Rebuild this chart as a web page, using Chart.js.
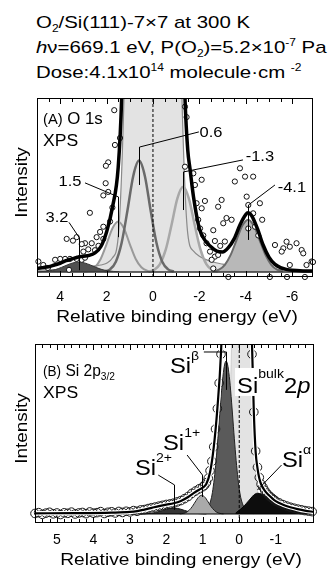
<!DOCTYPE html>
<html>
<head>
<meta charset="utf-8">
<title>O2/Si(111)-7x7 XPS</title>
<script src="https://cdn.jsdelivr.net/npm/chart.js@4.4.1/dist/chart.umd.min.js"></script>
<style>
  html, body { margin: 0; padding: 0; background: #fff; }
  body { position: relative; width: 328px; height: 570px; overflow: hidden;
         font-family: "Liberation Sans", Arial, Helvetica, sans-serif; color: #000; }
  .head { position: absolute; left: 36px; font-size: 17px; line-height: 17px; white-space: nowrap;
          transform: scaleX(1.2); transform-origin: 0 0; }
  .lo { position: relative; top: 4px; font-size: 10px; }
  .hi { position: relative; top: -7px; font-size: 10px; }
  canvas { position: absolute; left: 0; }
</style>
</head>
<body>
<div class="head" style="top:14px">O<span class="lo">2</span>/Si(111)-7×7 at 300 K</div>
<div class="head" style="top:39px"><i>h</i>ν=669.1 eV, P(O<span class="lo">2</span>)=5.2×10<span class="hi">-7</span> Pa</div>
<div class="head" style="top:64px">Dose:4.1x10<span class="hi">14</span> molecule·cm <span class="hi">-2</span></div>
<canvas id="o1s" width="328" height="240" style="top:88px"></canvas>
<canvas id="si2p" width="328" height="236" style="top:334px"></canvas>
<script>
const FONT = '"Liberation Sans", Arial, Helvetica, sans-serif';
Chart.defaults.font.family = FONT;
Chart.defaults.color = '#000';

// ---------- (A) O 1s ----------
const o1sTickLabels = [4, 2, 0, -2, -4, -6];
const o1sPeakPositions = [3.2, 1.5, 0.6, -1.3, -4.1];

// measured points
const o1sCountsX = [1.67, 1.42, 1.64, 1.93, 2.03, 2.04, 1.93, 2.14, 1.75, 2.72, 1.85, 2.14, 2.28, 2.14, 2.43, 2.64, 2.93, 3.07, 3.29, 3.72,
  3.45, 3.0, 2.79, 3.29, 3.07, 2.93, 3.58, 3.79, 4.0, 4.22, 4.94, 4.73, 4.53, 3.62, 2.5, 2.35,
  -1.38, -1.45, -1.38, -1.74, -1.81, -2.1, -1.88, -2.24, -2.1, -1.95, -2.03, -2.17, -2.31, -2.6, -2.67, -2.46, -2.67, -2.53, -2.81, -3.1,
  -3.03, -2.81, -2.96, -3.17, -3.39, -3.53, -3.75, -3.97, -4.32, -4.04, -4.11, -4.61, -4.32, -4.71, -4.4, -4.11, -4.54, -5.26, -5.62, -5.76,
  -5.9, -6.19, -6.41, -6.48, -5.55, -5.9, -6.62, -6.84, -2.6, -3.25, -5.04, -5.78, -6.55, -6.9, -2.9];
const o1sCountsY = [93, 77, 73, 63, 61, 51, 46, 44, 37, 34, 29, 26, 23, 19, 20, 16.5, 16.5, 16, 20, 19,
  18, 11.7, 13, 7.5, 7, 8.2, 7.5, 7.5, 7.5, 7, 6, 4, 2.3, 1.2, 12.5, 15,
  95, 89, 60.5, 56.7, 50, 53, 39.5, 40.8, 36.6, 30, 25, 21, 16.5, 24, 17.8, 11.7, 8.8, 7, 9.8, 17.5,
  28, 37.5, 41.4, 31, 30, 52, 59.6, 54.8, 54.8, 43.3, 38.5, 39.5, 33.7, 30, 26, 25, 21, 15.5, 13.6, 17.4,
  14.5, 16.5, 12.6, 10.7, 11.7, 4, 4, 6, 2, -2.9, -2.9, -2.9, -2.9, 5.7, 15];

// fitted sum
const o1sFitX = [5, 4.75, 4.5, 4.25, 4, 3.75, 3.5, 3.25, 3, 2.75, 2.5, 2.25, 2, 1.75, 1.5, 1.35, 1.2, 0.6, 0, -0.6,
  -1.2, -1.38, -1.5, -1.6, -1.75, -2, -2.25, -2.5, -2.75, -3, -3.25, -3.5, -3.75, -4, -4.1, -4.25, -4.5, -4.75, -5, -5.25,
  -5.5, -5.75, -6, -6.5, -6.9];
const o1sFitY = [2, 2.5, 3, 4, 5, 6.5, 7.5, 8.5, 9, 9.5, 11, 14.5, 23, 37, 60, 100, 190, 1200, 1600, 1200,
  190, 100, 70, 59, 43, 25, 18, 14.5, 12, 11.5, 14, 19, 27, 33, 34, 32.5, 25, 15.5, 8.5, 4.5,
  2.5, 1.5, 1, 0.6, 0.5];

// main component at 0 eV (runs off the top)
const o1sMainX = [5, 4, 3.5, 3, 2.5, 2.25, 2, 1.75, 1.5, 1.25, 1, 0.75, 0.5, 0.25, 0, -0.25, -0.5, -0.75, -1, -1.25,
  -1.5, -1.75, -2, -2.5, -3, -3.5, -4, -5, -6, -6.9];
const o1sMainY = [1, 1.5, 2, 2.5, 3.5, 4, 5, 8, 20, 100, 268, 574, 991, 1376, 1535, 1376, 991, 574, 268, 100,
  22, 12, 9, 6, 4.5, 3.5, 3, 1.8, 1, 0.6];

// labelled components
const o1sP32X = [4.95, 4.7, 4.45, 4.2, 3.95, 3.7, 3.45, 3.2, 2.95, 2.7, 2.45, 2.2, 1.95, 1.7, 1.45];
const o1sP32Y = [0.1, 0.3, 0.7, 1.4, 2.6, 4.0, 5.2, 5.7, 5.2, 4.0, 2.6, 1.4, 0.7, 0.3, 0.1];
const o1sP15X = [3.0, 2.75, 2.5, 2.25, 2.0, 1.75, 1.5, 1.25, 1.0, 0.75, 0.5, 0.25, 0.0];
const o1sP15Y = [0.1, 0.7, 2.7, 7.6, 16.0, 25.0, 29, 25.0, 16.0, 7.6, 2.7, 0.7, 0.1];
const o1sP06X = [2.1, 1.85, 1.6, 1.35, 1.1, 0.85, 0.6, 0.35, 0.1, -0.15, -0.4, -0.65, -0.9];
const o1sP06Y = [0.3, 1.5, 5.9, 16.8, 35.3, 55.2, 64, 55.2, 35.3, 16.8, 5.9, 1.5, 0.3];
const o1sPm13X = [0.2, -0.05, -0.3, -0.55, -0.8, -1.05, -1.3, -1.55, -1.8, -2.05, -2.3, -2.55, -2.8];
const o1sPm13Y = [0.2, 1.2, 4.5, 12.8, 27.0, 42.2, 49, 42.2, 27.0, 12.8, 4.5, 1.2, 0.2];
const o1sPm41X = [-2.6, -2.85, -3.1, -3.35, -3.6, -3.85, -4.1, -4.35, -4.6, -4.85, -5.1, -5.35, -5.6];
const o1sPm41Y = [0.3, 1.3, 4.1, 9.8, 18.2, 26.5, 30, 26.5, 18.2, 9.8, 4.1, 1.3, 0.3];

// ---------- (B) Si 2p3/2 ----------
const siTickLabels = [5, 4, 3, 2, 1, 0, -1, -2];

const siCountsX = [5.6, 5.5, 5.4, 5.3, 5.2, 5.1, 5.0, 4.9, 4.8, 4.7, 4.6, 4.5, 4.4, 4.3, 4.2, 4.1, 4.0, 3.9, 3.8, 3.7,
  3.6, 3.5, 3.4, 3.3, 3.2, 3.1, 3.0, 2.9, 2.8, 2.7, 2.6, 2.5, 2.4, 2.3, 2.2, 2.1, 2.0, 1.9, 1.8, 1.7,
  1.6, 1.5, 1.4, 1.3, 1.2, 1.1, 1.0, 0.95, 0.9, 0.85, 0.8, 0.75, 0.7, 0.65, 0.6, 0.55, 0.5, 0.45, 0.4, 0.35,
  0.3, 0.25, 0.2, 0.15, 0.1, 0.05, 0, -0.05, -0.1, -0.15, -0.2, -0.25, -0.3, -0.35, -0.4, -0.45, -0.5, -0.55, -0.6, -0.65,
  -0.7, -0.75, -0.8, -0.85, -0.9, -0.95, -1.0, -1.1, -1.2, -1.3, -1.4, -1.5, -1.6, -1.7, -1.8, -1.9, -2.0];
const siCountsY = [0.3, 0.8, -0.2, 0.5, 1.0, 0.1, 0.6, -0.3, 0.7, 0.4, 1.1, 0.0, 0.6, 0.9, 0.2, 1.2, 0.5, 0.8, 1.4, 0.3,
  1.0, 1.3, 0.6, 1.5, 0.9, 1.6, 1.2, 2.0, 1.6, 2.4, 2.6, 3.2, 3.7, 4.1, 4.6, 5.1, 5.6, 5.9, 6.4, 7.1,
  7.9, 9.0, 10.3, 12.1, 13.5, 14.8, 16.0, 16.9, 18.4, 21, 25.5, 31, 39.5, 50, 62, 77, 94, 118, 160, 215,
  280, 340, 400, 450, 500, 540, 560, 565, 545, 480, 380, 250, 165, 94, 60, 37, 27.5, 21.5, 17.5, 15.8,
  13.9, 12.3, 11.2, 10.1, 9.3, 8.4, 7.6, 6.5, 5.5, 4.7, 4.0, 3.4, 2.9, 2.5, 2.0, 1.7, 1.4];

const siFitX = [5.6, 4.5, 3.5, 3.0, 2.8, 2.6, 2.4, 2.2, 2.0, 1.8, 1.6, 1.4, 1.25, 1.1, 1.0, 0.9, 0.8, 0.7, 0.6, 0.5,
  0.4, 0.2, 0, -0.1, -0.2, -0.3, -0.35, -0.4, -0.45, -0.5, -0.55, -0.6, -0.7, -0.8, -0.9, -1.0, -1.2, -1.4, -1.6, -1.8, -2.05];
const siFitY = [0.4, 0.5, 0.8, 1.2, 1.7, 2.6, 3.6, 4.6, 5.5, 6.3, 7.7, 10, 12.3, 14.3, 15.5, 17.8, 24.5, 39, 62, 95,
  160, 420, 560, 545, 380, 165, 100, 60, 36.5, 27, 21, 17.5, 13.8, 11.3, 9.3, 7.6, 5.5, 4.0, 2.9, 2.0, 1.2];

const siBulkX = [1.0, 0.7, 0.535, 0.435, 0.385, 0.335, 0.285, 0.235, 0.185, 0.135, 0.085, 0.035, -0.015, -0.065, -0.115,
  -0.165, -0.215, -0.265, -0.315, -0.365, -0.415, -0.465, -0.515, -0.565, -0.615, -0.7, -0.8, -1.0, -1.5, -2.05];
const siBulkY = [0.3, 0.6, 1.3, 4, 9, 19.5, 40, 76, 132, 207, 293, 377, 437, 460, 437,
  377, 293, 207, 132, 76, 41, 21, 12, 7.5, 5, 2.8, 1.6, 0.8, 0.4, 0.2];
const siBetaX = [1.11, 0.96, 0.86, 0.76, 0.71, 0.66, 0.61, 0.56, 0.51, 0.46, 0.41, 0.36, 0.31, 0.26, 0.21, 0.16, 0.11, 0.06,
  0.01, -0.04, -0.14, -0.24, -0.39];
const siBetaY = [0.2, 1.0, 3.5, 9.8, 16.4, 25.8, 37.8, 51.6, 65.8, 78.3, 86.9, 90, 86.9, 78.3, 65.8, 51.6, 37.8, 25.8,
  16.4, 9.8, 3.5, 1.0, 0.2];
const siOneX = [1.63, 1.53, 1.43, 1.33, 1.28, 1.23, 1.18, 1.13, 1.08, 1.03, 0.98, 0.93, 0.88, 0.83, 0.78, 0.73, 0.63, 0.53, 0.43];
const siOneY = [0.08, 0.35, 1.2, 3.2, 4.6, 6.3, 8.0, 9.6, 10.6, 11, 10.6, 9.6, 8.0, 6.3, 4.6, 3.2, 1.2, 0.35, 0.08];
const siTwoX = [2.7, 2.6, 2.5, 2.4, 2.3, 2.2, 2.1, 2.0, 1.9, 1.8, 1.7, 1.6, 1.5, 1.4, 1.3, 1.2, 1.1, 1.0, 0.9];
const siTwoY = [0.04, 0.1, 0.23, 0.47, 0.87, 1.45, 2.1, 2.8, 3.3, 3.5, 3.3, 2.8, 2.1, 1.45, 0.87, 0.47, 0.23, 0.1, 0.04];
const siAlphaX = [0.1, 0.0, -0.1, -0.2, -0.3, -0.4, -0.5, -0.6, -0.7, -0.8, -0.9, -1.0, -1.1, -1.2, -1.4, -1.6, -1.8, -2.05];
const siAlphaY = [0.5, 2.2, 4.0, 6.3, 8.8, 11.2, 12.2, 11.8, 10.8, 9.6, 8.0, 6.6, 5.5, 4.6, 3.2, 2.2, 1.4, 0.7];

// axis ranges
const o1sX = { min: -6.9, max: 5 }, o1sY = { min: -2.9, max: 100 };
const siX = { min: -2.05, max: 5.6 }, siY = { min: -5.3, max: 100 };

// callouts for panel A (data units): where the number sits, where its leader starts, knee and foot heights
const o1sCallouts = [
  { label: [4.14, 31.6], from: [3.62, 28.5], knee: 19.5, foot: 1 },
  { label: [3.58, 52.3], from: [2.93, 51.2], knee: 43.1, foot: 20 },
  { label: [-2.5, 81], from: [-1.98, 80.5], knee: 71.8, foot: 50 },
  { label: [-4.61, 66.7], from: [-3.88, 64.4], knee: 57.5, foot: 35.6 },
  { label: [-5.99, 49.4], from: [-5.26, 50], knee: 38.5, foot: 18.4 }
];
// labels for panel B: text origin (left, baseline) and leader path
const siCallouts = [
  { sup: 'β', at: [1.90, 82.9], path: [[0.97, 95.3], [0.36, 95.3], [0.36, 73]] },
  { sup: '1+', at: [2.09, 37.6], path: [[1.43, 34.7], [1.03, 22.9], [1.03, 10]] },
  { sup: '2+', at: [2.86, 22.9], path: [[2.22, 22.9], [1.8, 17.1], [1.8, 2.4]] },
  { sup: 'α', at: [-1.17, 27.6], path: [[-1.16, 28.8], [-0.48, 14.1]] }
];

const pts = (xs, ys) => xs.map((x, i) => ({ x, y: ys[i] }));
const crisp = v => Math.round(v) + 0.5;

function curve(xs, ys, o) {
  return Object.assign({
    data: pts(xs, ys), pointRadius: 0, borderWidth: 1, fill: false,
    cubicInterpolationMode: 'monotone', borderColor: '#000', backgroundColor: 'rgba(0,0,0,0)'
  }, o);
}
function area(xs, ys, color, order) {
  return curve(xs, ys, { fill: 'origin', backgroundColor: color, borderWidth: 0, order });
}

const fontOf = r => `${r.italic ? 'italic ' : ''}${r.size}px ${FONT}`;
function runsWidth(ctx, runs) {
  let w = 0;
  for (const r of runs) { ctx.font = fontOf(r); w += ctx.measureText(r.t).width; }
  return w;
}
function drawRuns(ctx, x, y, runs, sx) {
  ctx.save();
  ctx.translate(x, y);
  ctx.scale(sx, 1);
  let cx = 0;
  for (const r of runs) {
    ctx.font = fontOf(r);
    ctx.fillText(r.t, cx, r.dy || 0);
    cx += ctx.measureText(r.t).width;
  }
  ctx.restore();
}

// frame, inward ticks, axis titles and annotations
function decor(opts) {
  return {
    id: 'decor',
    afterDraw(chart) {
      const { ctx, chartArea: a } = chart;
      const sx = chart.scales.x, sy = chart.scales.y;
      const X = v => sx.getPixelForValue(v), Y = v => sy.getPixelForValue(v);
      ctx.save();
      ctx.fillStyle = '#000';
      ctx.strokeStyle = '#000';
      ctx.lineWidth = 1;
      ctx.textAlign = 'left';
      ctx.textBaseline = 'alphabetic';

      for (const t of sx.ticks) {
        const q = t.value / opts.minorStep;
        if (Math.abs(q - Math.round(q)) > 1e-6) continue;
        const px = crisp(X(t.value));
        const len = opts.tickLabels.includes(t.value) ? 6 : 4;
        ctx.beginPath();
        ctx.moveTo(px, a.top); ctx.lineTo(px, a.top + len);
        ctx.moveTo(px, a.bottom); ctx.lineTo(px, a.bottom - len);
        ctx.stroke();
      }
      ctx.strokeRect(crisp(a.left), crisp(a.top), Math.round(a.right - a.left) - 1, Math.round(a.bottom - a.top) - 1);

      opts.annotate(ctx, X, Y, a);

      // y title
      ctx.save();
      ctx.translate(22, (a.top + a.bottom) / 2 - 5);
      ctx.rotate(-Math.PI / 2);
      ctx.scale(1.15, 1);
      ctx.font = `16.5px ${FONT}`;
      ctx.textAlign = 'center';
      ctx.textBaseline = 'middle';
      ctx.fillText('Intensity', 0, 0);
      ctx.restore();

      // x title
      ctx.save();
      ctx.translate((a.left + a.right) / 2 + opts.titleShift, a.bottom + opts.titleDrop);
      ctx.scale(1.16, 1);
      ctx.font = `16.5px ${FONT}`;
      ctx.textAlign = 'center';
      ctx.fillText('Relative binding energy (eV)', 0, 0);
      ctx.restore();

      ctx.restore();
    }
  };
}

function baseOptions(xr, yr, pad, axisHeight, tickPad, step, labels) {
  return {
    responsive: false,
    animation: false,
    events: [],
    layout: { padding: pad },
    plugins: { legend: { display: false }, tooltip: { enabled: false } },
    scales: {
      x: {
        type: 'linear', reverse: true, min: xr.min, max: xr.max,
        afterFit: s => { s.height = axisHeight; },
        grid: { display: false, drawTicks: false },
        border: { display: false },
        ticks: {
          stepSize: step, autoSkip: false, maxRotation: 0, padding: tickPad,
          font: { size: 14 }, color: '#000',
          callback: v => (labels.includes(v) ? String(v) : '')
        }
      },
      y: { display: false, min: yr.min, max: yr.max }
    }
  };
}

// ---------- chart A ----------
new Chart(document.getElementById('o1s'), {
  type: 'line',
  data: {
    datasets: [
      curve(o1sFitX, o1sFitY, { borderWidth: 3.5, order: 0 }),
      { data: pts(o1sCountsX, o1sCountsY), showLine: false, pointRadius: 2.6, pointBorderWidth: 1,
        pointBorderColor: '#111', pointBackgroundColor: '#fff', order: 1, clip: 4 },
      curve([0, 0], [o1sY.min, o1sY.max], { borderDash: [3, 2], cubicInterpolationMode: 'default', order: 2 }),
      curve([o1sX.max, o1sX.min], [0, 0], { borderColor: '#333', borderWidth: 1.5, cubicInterpolationMode: 'default', order: 3 }),
      curve(o1sP32X, o1sP32Y, { fill: 'origin', backgroundColor: '#505050', borderColor: '#333', order: 4 }),
      curve(o1sPm41X, o1sPm41Y, { fill: 'origin', backgroundColor: '#b8b8b8', borderColor: '#6a6a6a', borderWidth: 2, order: 5 }),
      curve(o1sP06X, o1sP06Y, { borderColor: '#6a6a6a', borderWidth: 2.5, order: 6 }),
      curve(o1sPm13X, o1sPm13Y, { borderColor: '#a8a8a8', borderWidth: 2.5, order: 7 }),
      curve(o1sP15X, o1sP15Y, { borderColor: '#999', borderWidth: 2, order: 8 }),
      curve(o1sMainX, o1sMainY, { borderColor: '#8a8a8a', borderWidth: 1.2, order: 9 }),
      area(o1sP15X, o1sP15Y, '#e3e3e3', 10),
      area(o1sP06X, o1sP06Y, '#e3e3e3', 10),
      area(o1sPm13X, o1sPm13Y, '#e3e3e3', 10),
      area(o1sMainX, o1sMainY, '#e3e3e3', 11)
    ]
  },
  options: baseOptions(o1sX, o1sY, { left: 37, right: 15, top: 10, bottom: 0 }, 51, 12, 0.5, o1sTickLabels),
  plugins: [decor({
    minorStep: 0.5, tickLabels: o1sTickLabels, titleShift: 2, titleDrop: 45,
    annotate(ctx, X, Y, a) {
      o1sPeakPositions.forEach((p, i) => {
        const c = o1sCallouts[i];
        ctx.beginPath();
        ctx.moveTo(X(c.from[0]), Y(c.from[1]));
        ctx.lineTo(crisp(X(p)), Y(c.knee));
        ctx.lineTo(crisp(X(p)), Y(c.foot));
        ctx.stroke();
        const runs = [{ t: String(p), size: 15 }];
        const w = runsWidth(ctx, runs) * 1.1;
        drawRuns(ctx, X(c.label[0]) - w / 2, Y(c.label[1]) + 5.5, runs, 1.1);
      });
      drawRuns(ctx, a.left + 6, a.top + 26, [{ t: '(A)', size: 14 }, { t: ' O 1s', size: 16 }], 1.05);
      drawRuns(ctx, a.left + 6, a.top + 48, [{ t: 'XPS', size: 16 }], 1.1);
    }
  })]
});

// ---------- chart B ----------
new Chart(document.getElementById('si2p'), {
  type: 'line',
  data: {
    datasets: [
      curve(siFitX, siFitY, { borderWidth: 2.2, order: 0 }),
      curve(siFitX, siFitY, { borderWidth: 4.5, borderColor: '#fff', order: 1 }),
      { data: pts(siCountsX, siCountsY), showLine: false, pointRadius: 4.3, pointBorderWidth: 1,
        pointBorderColor: '#1a1a1a', pointBackgroundColor: 'rgba(0,0,0,0)', order: 2, clip: 5 },
      curve([0, 0], [siY.min, siY.max], { borderDash: [3, 2], cubicInterpolationMode: 'default', order: 3 }),
      curve([siX.max, siX.min], [0, 0], { borderWidth: 1, cubicInterpolationMode: 'default', order: 4 }),
      curve(siOneX, siOneY, { fill: 'origin', backgroundColor: '#aaaaaa', borderColor: '#222', order: 5 }),
      curve(siAlphaX, siAlphaY, { fill: 'origin', backgroundColor: '#0d0d0d', borderColor: '#000', order: 6 }),
      curve(siTwoX, siTwoY, { fill: 'origin', backgroundColor: '#353535', borderColor: '#111', order: 7 }),
      curve(siBetaX, siBetaY, { fill: 'origin', backgroundColor: '#5a5a5a', borderColor: '#222', order: 8 }),
      curve(siBulkX, siBulkY, { fill: 'origin', backgroundColor: '#e3e3e3', borderColor: '#c4c4c4', borderWidth: 0.8, order: 9 })
    ]
  },
  options: baseOptions(siX, siY, { left: 35, right: 14, top: 10, bottom: 0 }, 47, 9, 0.2, siTickLabels),
  plugins: [decor({
    minorStep: 0.2, tickLabels: siTickLabels, titleShift: 6.5, titleDrop: 42,
    annotate(ctx, X, Y, a) {
      for (const c of siCallouts) {
        ctx.beginPath();
        c.path.forEach(([px, py], i) => {
          const xx = i > 0 ? crisp(X(px)) : X(px);
          if (i === 0) ctx.moveTo(xx, Y(py)); else ctx.lineTo(xx, Y(py));
        });
        ctx.stroke();
        drawRuns(ctx, X(c.at[0]), Y(c.at[1]),
          [{ t: 'Si', size: 22 }, { t: c.sup, size: 13, dy: -13 }], 1.08);
      }
      // bulk label sits on a white patch over the bulk peak
      const bx = X(0.06), by = Y(71.2);
      ctx.font = `22px ${FONT}`;
      const wSi = ctx.measureText('Si').width * 1.08;
      ctx.fillStyle = '#fff';
      ctx.fillRect(bx - 2, by - 25, wSi + 3, 28);
      ctx.fillStyle = '#000';
      drawRuns(ctx, bx, by, [{ t: 'Si', size: 22 }, { t: 'bulk', size: 13, dy: -15 },
        { t: '2', size: 22 }, { t: 'p', size: 22, italic: true }], 1.08);

      drawRuns(ctx, a.left + 8, a.top + 32,
        [{ t: '(B)', size: 14 }, { t: ' Si 2p', size: 16 }, { t: '3/2', size: 10.5, dy: 3.5 }], 0.97);
      drawRuns(ctx, a.left + 8, a.top + 54, [{ t: 'XPS', size: 16 }], 1.1);
    }
  })]
});
</script>
</body>
</html>
